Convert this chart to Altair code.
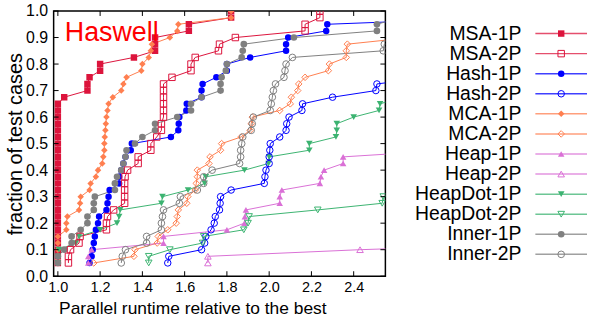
import altair as alt
import pandas as pd

# y positions shared by every profile (fraction of test cases)
FRACTIONS = [0.05, 0.075, 0.1, 0.125, 0.15, 0.175, 0.2, 0.225, 0.25, 0.275,
             0.3, 0.325, 0.35, 0.375, 0.4, 0.425, 0.45, 0.475, 0.5, 0.525,
             0.55, 0.575, 0.6, 0.625, 0.65, 0.675, 0.7, 0.725, 0.75, 0.775,
             0.8, 0.825, 0.85, 0.875, 0.9, 0.925, 0.95, 0.975, 1.0]

SERIES = ["MSA-1P", "MSA-2P", "Hash-1P", "Hash-2P", "MCA-1P", "MCA-2P",
          "Heap-1P", "Heap-2P", "HeapDot-1P", "HeapDot-2P", "Inner-1P", "Inner-2P"]

MSA_1P = [1.0] * 25 + [1.03, 1.14, 1.14, 1.15, 1.20, 1.20, 1.36, 1.46, 1.46, 1.46,
                       1.62, 1.62, 1.82, 1.82]
MSA_2P = [1.05, 1.05, 1.06, 1.10, 1.105, 1.23, 1.23, 1.235, 1.264, 1.316, 1.316,
          1.316, 1.316, 1.318, 1.33, 1.38, 1.38, 1.44, 1.44, 1.468, 1.49, 1.49,
          1.50, 1.50, 1.50, 1.50, 1.50, 1.50, 1.54, 1.63, 1.63, 1.65, 1.76, 1.765,
          1.84, 2.17, 2.17, 2.24, 2.24]
HASH_1P = [1.15, 1.16, 1.165, 1.17, 1.175, 1.18, 1.19, 1.195, 1.23, 1.235, 1.24,
           1.245, 1.29, 1.29, 1.30, 1.31, 1.32, 1.345, 1.35, 1.535, 1.57, 1.572,
           1.575, 1.608, 1.61, 1.68, 1.68, 1.685, 1.75, 1.80, 1.80, 1.91, 2.08,
           2.08, 2.09, 2.27, 2.275, 3.1, 3.5]
HASH_2P = [1.52, 1.525, 1.68, 1.695, 1.70, 1.725, 1.74, 1.745, 1.765, 1.768, 1.77,
           1.82, 1.977, 1.98, 1.985, 2.0, 2.0, 2.003, 2.005, 2.05, 2.08, 2.083,
           2.094, 2.155, 2.158, 2.30, 2.505, 2.51, 2.76]
MCA_1P = [1.0, 1.0, 1.0, 1.0, 1.0, 1.04, 1.04, 1.045, 1.10, 1.105, 1.108, 1.15,
          1.155, 1.18, 1.19, 1.21, 1.215, 1.22, 1.22, 1.222, 1.225, 1.227, 1.23,
          1.235, 1.24, 1.26, 1.30, 1.31, 1.325, 1.395, 1.40, 1.43, 1.44, 1.445,
          1.53, 1.565, 1.57, 1.82, 1.82]
MCA_2P = [1.17, 1.36, 1.365, 1.47, 1.475, 1.52, 1.56, 1.565, 1.57, 1.61, 1.615,
          1.65, 1.655, 1.66, 1.66, 1.715, 1.72, 1.77, 1.775, 1.867, 1.91, 1.915,
          1.92, 2.05, 2.10, 2.105, 2.135, 2.14, 2.17, 2.28, 2.285, 2.365, 2.365,
          2.37, 2.67]
HEAP_1P = [1.144, 1.144, 1.16, 1.50, 1.50, 1.80, 1.883, 1.885, 1.89, 2.05, 2.05,
           2.06, 2.24, 2.245, 2.26, 2.35, 2.35, 2.85]
HEAP_2P = [1.71, 1.71, 2.43, 3.4]
HEAPDOT_1P = [1.0, 1.0, 1.005, 1.085, 1.10, 1.20, 1.28, 1.29, 1.295, 1.49, 1.495,
              1.616, 1.695, 1.70, 1.883, 1.997, 2.0, 2.19, 2.19, 2.316, 2.32, 2.32,
              2.40, 2.52, 2.525, 2.63]
HEAPDOT_2P = [1.43, 1.43, 1.53, 1.685, 1.69, 1.88, 1.90, 1.905, 2.23, 2.535, 2.54,
              3.5]
INNER_1P = [1.0, 1.0, 1.03, 1.065, 1.065, 1.108, 1.14, 1.14, 1.17, 1.17, 1.175,
            1.27, 1.27, 1.28, 1.30, 1.31, 1.32, 1.325, 1.365, 1.40, 1.46, 1.46,
            1.565, 1.63, 1.63, 1.68, 1.77, 1.77, 1.775, 1.795, 1.80, 1.87, 1.875,
            1.88, 2.117, 2.51, 2.51, 2.62, 2.8]
INNER_2P = [1.30, 1.305, 1.32, 1.42, 1.42, 1.49, 1.49, 1.495, 1.50, 1.575, 1.58,
            1.66, 1.69, 1.69, 1.73, 1.86, 1.865, 1.865, 1.87, 1.875, 1.915, 1.92,
            1.925, 2.005, 2.01, 2.015, 2.02, 2.03, 2.07, 2.075, 2.08, 2.11, 2.54,
            2.545, 3.0]

X_TICKS = [1.0, 1.2, 1.4, 1.6, 1.8, 2.0, 2.2, 2.4]
Y_TICKS = [0.0, 0.1, 0.2, 0.3, 0.4, 0.5, 0.6, 0.7, 0.8, 0.9, 1.0]
ANNOT_TEXT = ["Haswell"]
ANNOT_X = [1.033]
ANNOT_Y = [0.887]

# styles
COLORS = ["#dc143c", "#dc143c", "#0000ff", "#0000ff", "#ff7f50", "#ff7f50",
          "#da70d6", "#da70d6", "#3cb371", "#3cb371", "#808080", "#808080"]
SHAPES = ["square", "square", "circle", "circle", "diamond", "diamond",
          "triangle-up", "triangle-up", "triangle-down", "triangle-down",
          "circle", "circle"]
SIZES = [42, 45, 30, 36, 24, 40, 22, 45, 22, 45, 24, 36]

values = [MSA_1P, MSA_2P, HASH_1P, HASH_2P, MCA_1P, MCA_2P, HEAP_1P, HEAP_2P,
          HEAPDOT_1P, HEAPDOT_2P, INNER_1P, INNER_2P]
rows = []
for name, xs_ in zip(SERIES, values):
    for k, xv in enumerate(xs_):
        rows.append({"series": name, "x": xv, "y": FRACTIONS[k], "k": k,
                     "filled": 1 if name.endswith("1P") else 0})
df = pd.DataFrame(rows)

FONT = "Liberation Sans"
W, H = 334, 267
xsc = alt.Scale(domain=[0.98, 2.55], nice=False, zero=False)
ysc = alt.Scale(domain=[0, 1], nice=False, zero=False)

color = alt.Color("series:N", scale=alt.Scale(domain=SERIES, range=COLORS), legend=None)
shape = alt.Shape("series:N", scale=alt.Scale(domain=SERIES, range=SHAPES), legend=None)
size = alt.Size("series:O", scale=alt.Scale(domain=SERIES, range=SIZES), legend=None)

axX = alt.Axis(values=X_TICKS, format=".1f", title="Parallel runtime relative to the best",
               ticks=False, domain=False, grid=False, labelFontSize=14.5, titleFontSize=17.5,
               labelPadding=4, titlePadding=6, labelFont=FONT, titleFont=FONT,
               titleFontWeight="normal", labelColor="black", titleColor="black",
               labelFlush=False, titleAnchor="start", titleAlign="left", titleX=5)
axY = alt.Axis(values=Y_TICKS, format=".1f", title="fraction of test cases",
               ticks=False, domain=False, grid=False, labelFontSize=16, titleFontSize=20,
               labelPadding=6, titlePadding=0, labelFont=FONT, titleFont=FONT,
               titleFontWeight="normal", labelColor="black", titleColor="black")

X = alt.X("x:Q", scale=xsc, axis=axX)
Y = alt.Y("y:Q", scale=ysc, axis=axY)

base = alt.Chart(df)
lines = base.mark_line(clip=True, strokeWidth=1).encode(
    x=X, y=Y, color=color, detail="series:N", order="k:Q")
pts_f = base.transform_filter(alt.datum.filled == 1).mark_point(
    filled=True, clip=True, opacity=1).encode(x=X, y=Y, color=color, shape=shape, size=size)
pts_o = base.transform_filter(alt.datum.filled == 0).mark_point(
    filled=False, clip=True, opacity=1, strokeWidth=1).encode(
    x=X, y=Y, color=color, shape=shape, size=size)

xt = alt.Chart(pd.DataFrame({"x": X_TICKS}))
yt = alt.Chart(pd.DataFrame({"y": Y_TICKS}))
tick_b = xt.mark_rule(color="black", strokeWidth=1).encode(x=X, y=alt.value(H), y2=alt.value(H - 5))
tick_t = xt.mark_rule(color="black", strokeWidth=1).encode(x=X, y=alt.value(0), y2=alt.value(5))
tick_l = yt.mark_rule(color="black", strokeWidth=1).encode(y=Y, x=alt.value(0), x2=alt.value(5))
tick_r = yt.mark_rule(color="black", strokeWidth=1).encode(y=Y, x=alt.value(W), x2=alt.value(W - 5))

annot = alt.Chart(pd.DataFrame({"x": ANNOT_X, "y": ANNOT_Y, "label": ANNOT_TEXT})).mark_text(
    align="left", baseline="alphabetic", fontSize=27, font=FONT, color="#ff0000").encode(
    x=X, y=Y, text="label:N")

main = alt.layer(lines, pts_f, pts_o, tick_b, tick_t, tick_l, tick_r, annot).properties(
    width=W, height=H, view=alt.ViewBackground(stroke="black", strokeWidth=1.5))

# legend panel
leg = pd.DataFrame({"series": SERIES, "idx": list(range(len(SERIES))),
                    "filled": [1 if s.endswith("1P") else 0 for s in SERIES]})
lb = alt.Chart(leg)
ly = alt.Y("idx:Q", scale=alt.Scale(domain=[0, 11], range=[22.7, 245]), axis=None)
leg_text = lb.mark_text(align="right", baseline="middle", fontSize=19.5, font=FONT,
                        color="black").encode(x=alt.value(134), y=ly, text="series:N")
leg_rule = lb.mark_rule(strokeWidth=1.5, opacity=0.75).encode(
    x=alt.value(148), x2=alt.value(200), y=ly, color=color)
leg_pf = lb.transform_filter(alt.datum.filled == 1).mark_point(filled=True, opacity=1).encode(
    x=alt.value(174), y=ly, color=color, shape=shape, size=size)
leg_po = lb.transform_filter(alt.datum.filled == 0).mark_point(filled=False, opacity=1,
                                                               strokeWidth=1).encode(
    x=alt.value(174), y=ly, color=color, shape=shape, size=size)
legend = alt.layer(leg_rule, leg_pf, leg_po, leg_text).properties(
    width=200, height=H, view=alt.ViewBackground(stroke="transparent"))

chart = alt.hconcat(main, legend, spacing=0).properties(
    padding={"left": 5, "top": 1, "right": 0, "bottom": 0},
    background="white")

chart.save("out.html", embed_options={"renderer": "svg", "actions": False})
